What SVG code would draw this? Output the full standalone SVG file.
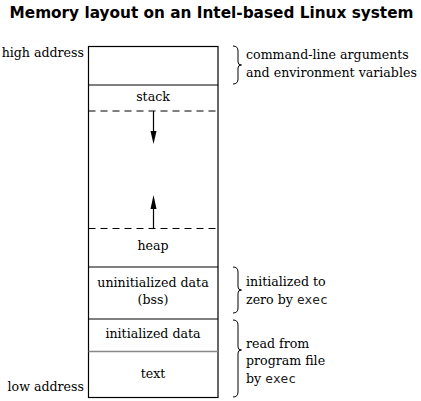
<svg xmlns="http://www.w3.org/2000/svg" width="421" height="401" viewBox="0 0 421 401">
<style>
.t{font-family:"DejaVu Serif","Liberation Serif",serif;font-size:12.6px;fill:#000}
.c{text-anchor:middle}
.e{text-anchor:end}
.m{font-family:"DejaVu Sans Mono","Liberation Mono",monospace;font-size:12.8px;fill:#222}
.ln{stroke:#000;stroke-width:1.2;fill:none}
.br{stroke:#000;stroke-width:1;fill:none}
.d{stroke:#000;stroke-width:1.2;stroke-dasharray:7,5;fill:none}
</style>
<rect width="421" height="401" fill="#fff"/>
<text x="211.5" y="18" text-anchor="middle" style="font-family:'DejaVu Sans',Verdana,sans-serif;font-weight:bold;font-size:15.3px">Memory layout on an Intel-based Linux system</text>
<g id="memory">
<rect x="88.5" y="46.5" width="129.5" height="351" class="ln"/>
<line x1="88.5" y1="85" x2="218" y2="85" class="ln"/>
<line x1="88.5" y1="111" x2="218" y2="111" class="d"/>
<line x1="88.5" y1="228.5" x2="218" y2="228.5" class="d"/>
<line x1="88.5" y1="267" x2="218" y2="267" class="ln"/>
<line x1="88.5" y1="319" x2="218" y2="319" class="ln"/>
<line x1="88.5" y1="351.5" x2="218" y2="351.5" stroke="#888" stroke-width="1.5"/>
</g>
<g id="labels">
<text x="84" y="57" class="t e">high address</text>
<text x="84" y="391" class="t e">low address</text>
<text x="153" y="101" class="t c">stack</text>
<text x="153" y="250" class="t c">heap</text>
<text x="153" y="287" class="t c">uninitialized data</text>
<text x="153" y="304" class="t c">(bss)</text>
<text x="153" y="338" class="t c">initialized data</text>
<text x="153" y="378" class="t c">text</text>
</g>
<g id="connectors">
<line x1="153.5" y1="111" x2="153.5" y2="133" stroke="#000" stroke-width="1.2"/>
<polygon points="150.5,131 156.5,131 153.5,144" fill="#000"/>
<line x1="153.5" y1="208" x2="153.5" y2="228.5" stroke="#000" stroke-width="1.2"/>
<polygon points="150.5,209 156.5,209 153.5,195" fill="#000"/>
</g>
<g id="notes">
<path class="br" d="M233 46 Q238 46 238 51 L238 62 Q238 65 241.5 65 Q238 65 238 68 L238 79 Q238 84 233 84"/>
<path class="br" d="M233 267 Q238 267 238 272 L238 287 Q238 290 241.5 290 Q238 290 238 293 L238 308 Q238 313 233 313"/>
<path class="br" d="M233 320 Q238 320 238 325 L238 347 Q238 350 241.5 350 Q238 350 238 353 L238 392 Q238 397 233 397"/>
<text x="246" y="59" class="t">command-line arguments</text>
<text x="246" y="77" class="t">and environment variables</text>
<text x="246" y="286" class="t">initialized to</text>
<text x="246" y="304" class="t">zero by <tspan class="m">exec</tspan></text>
<text x="246" y="348" class="t">read from</text>
<text x="246" y="365" class="t">program file</text>
<text x="246" y="383" class="t">by <tspan class="m">exec</tspan></text>
</g>
</svg>
